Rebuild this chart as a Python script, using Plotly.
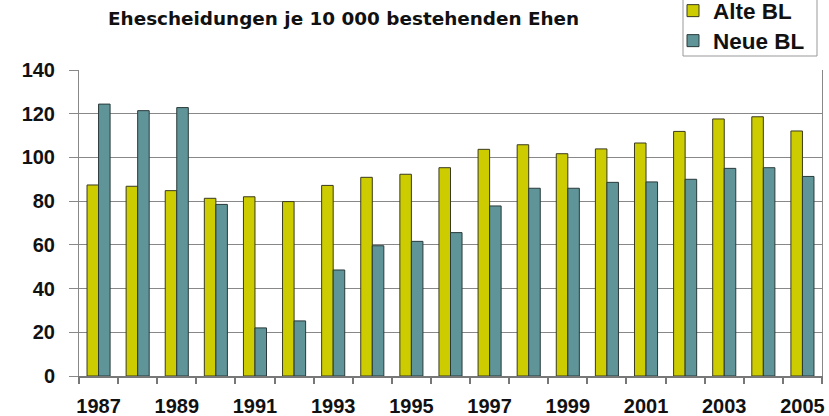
import plotly.graph_objects as go

years = list(range(1987, 2006))
alte_bl = [87.4, 86.8, 84.8, 81.3, 82.0, 79.8, 87.2, 90.9, 92.3, 95.3,
           103.7, 105.8, 101.7, 103.9, 106.6, 111.9, 117.6, 118.6, 112.1]
neue_bl = [124.4, 121.4, 122.8, 78.5, 22.0, 25.2, 48.5, 59.6, 61.6, 65.6,
           77.8, 85.9, 85.9, 88.6, 88.8, 90.0, 95.0, 95.3, 91.3]
tick_years = [y for y in years if y % 2 == 1]
tick_labels = [str(y) for y in tick_years]
title_text = "Ehescheidungen je 10 000 bestehenden Ehen"

FONT = "Arial, Liberation Sans, sans-serif"
TFONT = "DejaVu Sans, Verdana, sans-serif"

W, H = 829, 416
L, R, T, B = 79, 7, 70, 40
PW, PH = W - L - R, H - T - B


def px_x(p):
    return (p - L) / PW


def px_y(p):
    return (H - B - p) / PH


fig = go.Figure()
fig.add_trace(go.Bar(x=years, y=alte_bl, name="<b>Alte BL</b>", legend="legend",
                     marker=dict(color="#CCCC00", line=dict(color="#3a3a20", width=1))))
fig.add_trace(go.Bar(x=years, y=neue_bl, name="<b>Neue BL</b>", legend="legend2",
                     marker=dict(color="#5F9498", line=dict(color="#2a3a3a", width=1))))

boundaries = [y - 0.5 for y in years] + [years[-1] + 0.5]

leg_common = dict(xref="paper", yref="paper", xanchor="left", yanchor="middle",
                  bgcolor="rgba(0,0,0,0)", borderwidth=0,
                  font=dict(family=FONT, size=22.5, color="#111"))

fig.update_layout(
    width=W, height=H,
    margin=dict(l=L, r=R, t=T, b=B, autoexpand=False),
    paper_bgcolor="white", plot_bgcolor="white",
    barmode="group", bargap=0.41, bargroupgap=0,
    title=dict(text="<b>" + title_text + "</b>", x=108 / W, xanchor="left",
               y=1 - 18.5 / H, yanchor="middle", yref="container",
               font=dict(family=TFONT, size=18.4, color="#111")),
    legend=dict(x=px_x(673), y=px_y(11), **leg_common),
    legend2=dict(x=px_x(673), y=px_y(41), **leg_common),
    showlegend=True,
    shapes=[dict(type="rect", xref="paper", yref="paper",
                 x0=px_x(683), x1=px_x(817), y0=px_y(56), y1=px_y(-5),
                 line=dict(color="#999", width=1), fillcolor="white", layer="below")],
)
fig.update_xaxes(
    range=[1986.5, 2005.5],
    tickvals=tick_years, ticktext=["<b>" + t + "</b>" for t in tick_labels],
    ticks="", showgrid=False,
    tickfont=dict(family=FONT, size=20, color="#111"),
    showline=True, linecolor="#777", linewidth=1.5,
    minor=dict(tickvals=boundaries, ticks="outside", ticklen=6, tickcolor="#777",
               tickwidth=1.5, showgrid=False),
    ticklabelstandoff=11,
)
fig.update_yaxes(
    range=[0, 140], dtick=20,
    tickfont=dict(family=FONT, size=20, color="#111"),
    tickprefix="<b>", ticksuffix="</b>",
    ticks="outside", ticklen=9, tickcolor="#888",
    ticklabelstandoff=10,
    showgrid=True, gridcolor="#888", gridwidth=1,
    showline=True, linecolor="#888", linewidth=1, mirror=True,
    zeroline=False,
)

fig.write_html("out.html", config={"displayModeBar": False},
               post_script="document.body.style.margin='0';document.body.style.overflow='hidden';")
